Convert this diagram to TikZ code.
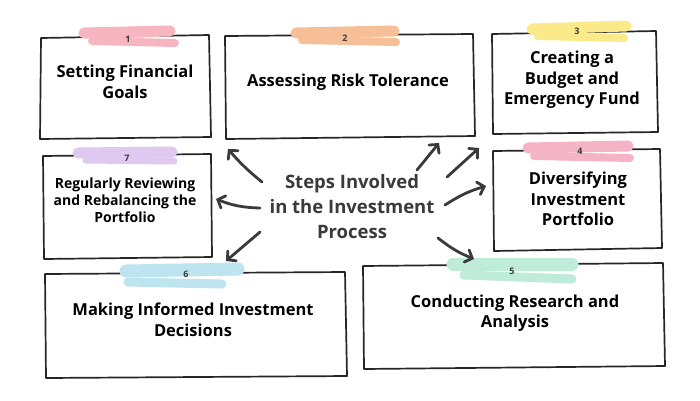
\documentclass[tikz,border=0pt]{standalone}
\usepackage{fontspec}
\setmainfont{Open Sans}[BoldFont={* Bold}]
\usetikzlibrary{arrows.meta}
\definecolor{ink}{HTML}{262626}
\definecolor{hubink}{HTML}{3A3A3A}
\definecolor{tapeone}{HTML}{F6B5BF}
\definecolor{tapetwo}{HTML}{F6BF98}
\definecolor{tapethree}{HTML}{FBEA8A}
\definecolor{tapefour}{HTML}{F5B3C6}
\definecolor{tapefive}{HTML}{BFEBD9}
\definecolor{tapesix}{HTML}{BDE4EF}
\definecolor{tapeseven}{HTML}{E0C9F0}

\begin{document}
\begin{tikzpicture}[x=1pt, y=-1pt,
    sketch/.style={draw=ink, line width=1.7pt, line join=round, line cap=round},
    brush/.style={line width=11pt, line cap=round},
    boxtext/.style={align=center, text=black, font=\fontsize{16.5}{20.5}\selectfont\bfseries},
    smalltext/.style={align=center, text=black, font=\fontsize{14}{17}\selectfont\bfseries},
    tapenum/.style={text=hubink, font=\fontsize{9}{10}\selectfont\bfseries},
    spoke/.style={draw=hubink, line width=2.8pt, line cap=round,
      -{Straight Barb[length=6pt, width=13pt, line cap=round]}}]
      \useasboundingbox (0,0) rectangle (700,400);
      \fill[white] (0,0) rectangle (700,400);

      \draw[sketch] (41,38) -- (209,35) -- (211,137) -- (40,139) -- cycle;
      \draw[sketch] (225,36) -- (473,34) -- (475,136) -- (226,139) -- cycle;
      \draw[sketch] (492,34) -- (656,31) -- (658,132) -- (493,134) -- cycle;
      \draw[sketch] (493,151) -- (660,149) -- (662,248) -- (494,251) -- cycle;
      \draw[sketch] (43,156) -- (211,154) -- (212,257) -- (44,259) -- cycle;
      \draw[sketch] (45,274) -- (345,272) -- (347,376) -- (46,378) -- cycle;
      \draw[sketch] (363,266) -- (663,263) -- (665,366) -- (364,369) -- cycle;

      \draw[brush, tapeone] (84,33) -- (170,31);
      \draw[brush, tapeone, line width=8pt] (92,41) -- (175,43);
      \draw[brush, tapetwo] (296,33) -- (394,31);
      \draw[brush, tapetwo, line width=8pt] (302,40) -- (396,42);
      \draw[brush, tapethree] (532,29) -- (626,26);
      \draw[brush, tapethree, line width=8pt] (538,36) -- (624,38);
      \draw[brush, tapefour] (528,148) -- (628,146);
      \draw[brush, tapefour, line width=8pt] (534,156) -- (630,158);
      \draw[brush, tapefive, line width=13pt] (453,264) -- (572,264);
      \draw[brush, tapefive, line width=9pt] (464,275) -- (572,279);
      \draw[brush, tapesix, line width=13pt] (126,271) -- (238,269);
      \draw[brush, tapesix, line width=9pt] (128,282) -- (222,284);
      \draw[brush, tapeseven] (78,153) -- (172,152);
      \draw[brush, tapeseven, line width=7pt] (86,160) -- (174,161);

      \node[tapenum] (n1) at (128,39) {1};
      \node[tapenum] (n2) at (345,38) {2};
      \node[tapenum] (n3) at (577,31) {3};
      \node[tapenum] (n4) at (580,151) {4};
      \node[tapenum] (n5) at (512,271) {5};
      \node[tapenum] (n6) at (186,274) {6};
      \node[tapenum] (n7) at (127,158) {7};

      \node[boxtext] (goals) at (125,82) {Setting Financial\\Goals};
      \node[boxtext] (risk) at (348,82) {Assessing Risk Tolerance};
      \node[boxtext] (budget) at (572,80) {Creating a\\Budget and\\Emergency Fund};
      \node[boxtext] (divers) at (578,199) {Diversifying\\Investment\\Portfolio};
      \node[boxtext] (research) at (515,313) {Conducting Research and\\Analysis};
      \node[boxtext] (decide) at (193,320) {Making Informed Investment\\Decisions};
      \node[smalltext] (review) at (125,200) {Regularly Reviewing\\and Rebalancing the\\Portfolio};

      \node[align=center, text=hubink, font=\fontsize{18.5}{25}\selectfont\bfseries] (hub) at (352,207)
        {Steps Involved\\in the Investment\\Process};

      \coordinate (s1) at (262,182);  \coordinate (e1) at (228,149);
      \coordinate (s2) at (417,170);  \coordinate (e2) at (439,143);
      \coordinate (s3) at (447,177);  \coordinate (e3) at (479,148);
      \coordinate (s4) at (445,205);  \coordinate (e4) at (486,186);
      \coordinate (s5) at (438,238);  \coordinate (e5) at (474,259);
      \coordinate (s6) at (260,232);  \coordinate (e6) at (226,261);
      \coordinate (s7) at (260,208);  \coordinate (e7) at (216,199);

      \draw[spoke] (s1) to[bend left=5] (e1);
      \draw[spoke] (s2) -- (e2);
      \draw[spoke] (s3) -- (e3);
      \draw[spoke] (s4) to[bend left=8] (e4);
      \draw[spoke] (s5) to[bend right=8] (e5);
      \draw[spoke] (s6) -- (e6);
      \draw[spoke] (s7) to[bend left=10] (e7);
\end{tikzpicture}
\end{document}
